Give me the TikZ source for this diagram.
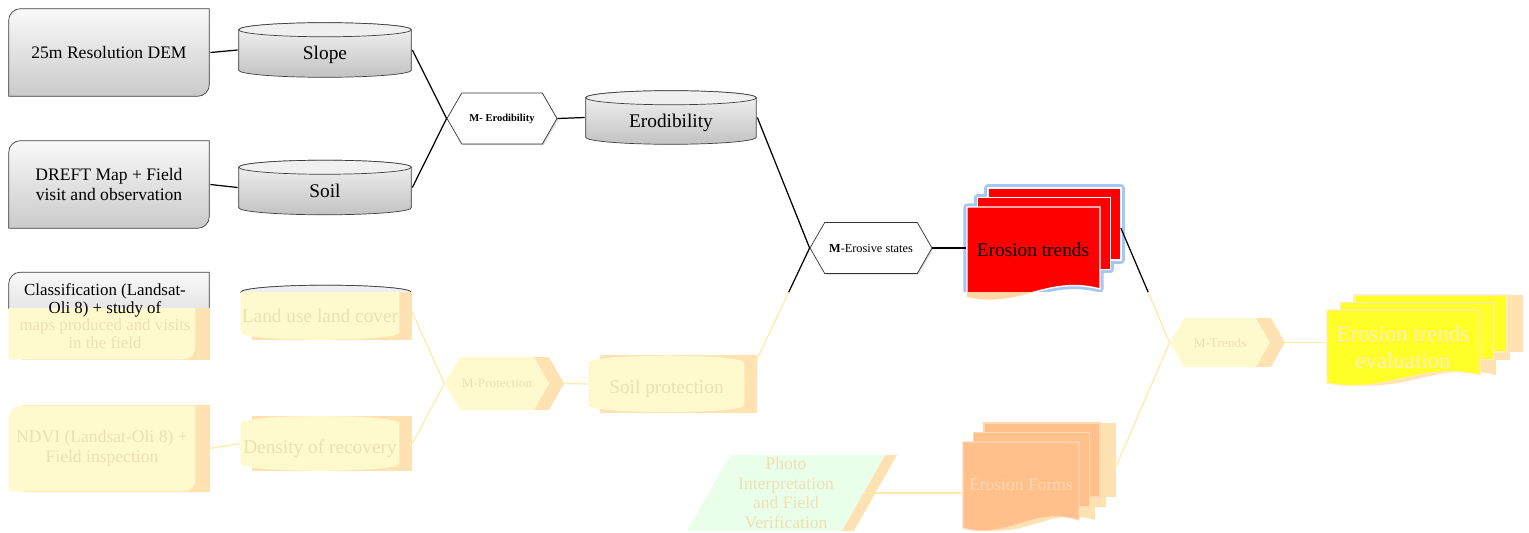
\documentclass[tikz,border=0pt]{standalone}
\usepackage{fontspec}
\setmainfont{Liberation Serif}
\usetikzlibrary{shapes.geometric,shapes.symbols,shadows,calc}

\definecolor{fadeyellow}{RGB}{255,250,205}
\definecolor{fadeshade}{RGB}{255,226,178}
\definecolor{fadetext}{RGB}{236,224,180}
\definecolor{fadeline}{RGB}{255,234,168}
\definecolor{photogreen}{RGB}{234,255,234}
\definecolor{formsorange}{RGB}{255,192,140}
\definecolor{formstext}{RGB}{255,216,178}
\definecolor{evalyellow}{RGB}{255,255,40}
\definecolor{evaltext}{RGB}{255,236,196}
\definecolor{glowblue}{RGB}{165,200,240}
\definecolor{fadetrend}{RGB}{255,214,165}

% stack of three pages, front page with a wavy bottom
% #1,#2 top left of front page, #3 width, #4 front height, #5 back height,
% #6,#7 page offset, #8 page style, #9 style of the pass below
\newcommand\docstack[9]{%
  \foreach \k in {2,1}
    \path[#9] ({#1+\k*#6},{#2+\k*#7}) rectangle ++(#3,-#5);
  \path[#9] (#1,#2) -- ++(#3,0) -- ++(0,{-#4+8})
    .. controls ({#1+0.6*#3},{#2-#4+22}) and ({#1+0.4*#3},{#2-#4-12}) .. (#1,{#2-#4}) -- cycle;
  \foreach \k in {2,1}
    \path[#8] ({#1+\k*#6},{#2+\k*#7}) rectangle ++(#3,-#5);
  \path[#8] (#1,#2) -- ++(#3,0) -- ++(0,{-#4+8})
    .. controls ({#1+0.6*#3},{#2-#4+22}) and ({#1+0.4*#3},{#2-#4-12}) .. (#1,{#2-#4}) -- cycle;
}

\tikzset{%
  % frames drawn inside the nodes
  srcpath/.style={path picture={
    \path[#1] ([xshift=.4pt,yshift=.4pt]path picture bounding box.south west)
      -- ([xshift=.4pt,yshift=-7pt]path picture bounding box.north west)
      arc[start angle=180,end angle=90,radius=6.6pt]
      -- ([xshift=-.4pt,yshift=-.4pt]path picture bounding box.north east)
      -- ([xshift=-.4pt,yshift=7pt]path picture bounding box.south east)
      arc[start angle=0,end angle=-90,radius=6.6pt]
      -- cycle;}},
  cylpath/.style 2 args={path picture={
    \path[#1] let \p1=(path picture bounding box.north west),
                  \p2=(path picture bounding box.south east),
                  \n1={(\x2-\x1)/2-0.4pt} in
      (\x1+0.4pt,\y1-4.4pt) -- (\x1+0.4pt,\y2+4.4pt)
      arc[start angle=180,end angle=360,x radius=\n1,y radius=4pt]
      -- (\x2-0.4pt,\y1-4.4pt)
      arc[start angle=0,end angle=180,x radius=\n1,y radius=4pt] -- cycle;
    \path[#2] let \p1=(path picture bounding box.north west),
                  \p2=(path picture bounding box.south east),
                  \n1={(\x2-\x1)/2-0.4pt} in
      (\x1+0.4pt+\n1,\y1-4.4pt) ellipse[x radius=\n1,y radius=4pt];}},
  % nodes
  srcbox/.style={minimum width=4.04cm, minimum height=1.78cm, inner sep=1pt,
                 align=center, font=\fontsize{10}{11.5}\selectfont,
                 srcpath={draw=black!75, top color=gray!4, bottom color=gray!42}},
  fadesrc/.style={srcbox, minimum width=3.76cm, minimum height=1.74cm, text=fadetext,
                  srcpath={fill=fadeyellow},
                  general shadow={fill=fadeshade, shadow xshift=.28cm, shadow yshift=0cm}},
  dbcyl/.style={minimum width=3.48cm, minimum height=1.12cm, inner sep=1pt,
                text height=13pt, text depth=2pt,
                font=\fontsize{11}{13}\selectfont,
                cylpath={draw=black!75, top color=gray!8, bottom color=gray!48}%
                       {draw=black!75, fill=gray!12}},
  fadecyl/.style={dbcyl, minimum width=3.2cm, text=fadetext,
                  cylpath={fill=fadeyellow}{fill=fadeyellow},
                  general shadow={fill=fadeshade, shadow xshift=.24cm, shadow yshift=0cm}},
  hexbase/.style={shape=signal, signal to=east and west, signal pointer angle=120,
                  minimum height=1.02cm, inner sep=1pt, font=\fontsize{7}{8}\selectfont},
  mhex/.style={hexbase, draw=black!80, fill=white,
               drop shadow={shadow xshift=.7pt, shadow yshift=-.7pt, opacity=.3}},
  fadehex/.style={hexbase, fill=fadeyellow, text=fadetext, font=\fontsize{7.5}{9}\selectfont,
                  general shadow={fill=fadeshade, shadow xshift=.3cm, shadow yshift=0cm}},
  photobox/.style={shape=trapezium, trapezium left angle=63, trapezium right angle=117,
                   trapezium stretches=true, minimum width=4cm, minimum height=1.52cm,
                   inner sep=1pt, align=center, fill=photogreen, text=fadetext,
                   font=\fontsize{10}{11.3}\selectfont,
                   general shadow={fill=fadeshade, shadow xshift=.24cm, shadow yshift=0cm}},
  % pages
  trendpage/.style={fill=red, draw=white, line width=.8pt},
  trendglow/.style={draw=glowblue, line width=4pt, line join=round},
  formspage/.style={fill=formsorange, draw=formstext, line width=.6pt},
  evalpage/.style={fill=evalyellow, draw=evaltext, line width=.6pt},
  fadeunder/.style={fill=fadeshade, xshift=.32cm},
  % connectors
  link/.style={draw=black, line width=.7pt},
  fadelink/.style={draw=fadeline, line width=.7pt},
}

\begin{document}
\begin{tikzpicture}[x=0.02cm, y=0.02cm]
  \useasboundingbox (0,0) rectangle (1529,532);
  % input data
  \node[srcbox] (dem)   at (109,479.5) {25m Resolution DEM};
  \node[srcbox] (dreft) at (109,347.5) {DREFT Map + Field\\visit and observation};
  \begin{scope}
    \clip (0,224) rectangle (1529,532);
    \node[srcbox] (classtop) at (109,216) {};
  \end{scope}
  \begin{scope}
    \clip (0,0) rectangle (1529,224);
    \node[fadesrc, minimum height=1.76cm] (classfade) at (102,216) {};
  \end{scope}
  \node[align=center, font=\fontsize{9.6}{10}\selectfont] (class) at (105,216)
    {Classification (Landsat-\\Oli 8) + study of\\\textcolor{fadetext}{maps produced and visits}\\\textcolor{fadetext}{in the field}};
  \begin{scope}
    \clip (0,240) rectangle (1529,532);
    \node[dbcyl, minimum width=3.44cm] (landusetop) at (326,219.5) {};
  \end{scope}
  \begin{scope}
    \clip (0,0) rectangle (1529,240);
    \node[fadecyl] (landuse) at (320,219.5) {Land use land cover};
  \end{scope}
  \node[fadesrc] (ndvi) at (102,83.5) {NDVI (Landsat-Oli 8) +\\Field inspection};
  \node[fadecyl] (density) at (320,88.5) {Density of recovery};
  % layers
  \node[dbcyl] (slope) at (325,482) {Slope};
  \node[dbcyl] (soil)  at (325,344.5) {Soil};
  \node[dbcyl, minimum width=3.44cm, minimum height=1.1cm] (erod) at (671,414.5) {Erodibility};
  \node[fadecyl, minimum width=3.14cm, minimum height=1.16cm] (soilprot) at (666.5,148) {Soil protection};
  % models
  \node[mhex, minimum width=2.2cm, font=\fontsize{6}{7}\selectfont\bfseries] (merod) at (502,413.5) {M- Erodibility};
  \node[mhex, minimum width=2.44cm] (meros) at (871,284) {\textbf{M}-Erosive states};
  \node[fadehex, minimum width=1.84cm, minimum height=1.06cm] (mprot) at (497,148.5) {M-Protection};
  \node[fadehex, minimum width=2cm, minimum height=.98cm] (mtrends) at (1220,189.5) {M-Trends};
  % results
  \docstack{967}{325}{133}{90}{72}{10.5}{9.5}{trendpage}{trendglow}
  \node[font=\fontsize{11}{13}\selectfont, minimum width=2.66cm] (trends) at (1033,282) {Erosion trends};
  \begin{scope}
    \clip (940,0) rectangle (1140,240);
    \fill[white] (940,0) rectangle (1140,240);
    \docstack{967}{325}{133}{90}{72}{10.5}{9.5}{fill=fadetrend}{}
  \end{scope}
  \node[photobox] (photo) at (786,39) {Photo\\Interpretation\\and Field\\Verification};
  \docstack{963}{90}{116}{86}{74}{10.5}{9.5}{formspage}{fadeunder}
  \node[font=\fontsize{10}{12}\selectfont, text=formstext, minimum width=2.32cm] (forms) at (1021,47) {Erosion Forms};
  \docstack{1327}{222}{153}{73}{57}{13.5}{7.5}{evalpage}{fadeunder}
  \node[font=\fontsize{13}{15.3}\selectfont, text=evaltext, align=center, minimum width=3.06cm] (eval) at (1403,185) {Erosion trends\\evaluation};
  % connectors
  \draw[link] (dem.east) -- (slope.west);
  \draw[link] (dreft.east) -- (soil.west);
  \draw[link] (slope.east) -- (merod.west);
  \draw[link] (soil.east) -- (merod.west);
  \draw[link] (merod.east) -- (erod.west);
  \draw[link] (erod.east) -- (meros.west);
  \draw[link] (meros.east) -- (meros.east -| trends.west);
  \draw[fadelink] ([xshift=.28cm]ndvi.east) -- (density.west);
  \draw[fadelink] ([xshift=.24cm]landuse.east) -- (mprot.west);
  \draw[fadelink] ([xshift=.24cm]density.east) -- (mprot.west);
  \draw[fadelink] ([xshift=.3cm]mprot.east) -- (soilprot.west);
  \draw[fadelink] (photo.east) -- (photo.east -| forms.west);
  \draw[fadelink] ([shift={(37,19)}]forms.east) -- (mtrends.west);
  \draw[fadelink] ([xshift=.3cm]mtrends.east) -- (mtrends.east -| eval.west);
  \begin{scope}
    \clip (0,240) rectangle (1529,532);
    \draw[link] (soilprot.east) -- (meros.west);
    \draw[link] ([shift={(21,22)}]trends.east) -- (mtrends.west);
  \end{scope}
  \begin{scope}
    \clip (0,0) rectangle (1529,240);
    \draw[fadelink] (soilprot.east) -- (meros.west);
    \draw[fadelink] ([shift={(21,22)}]trends.east) -- (mtrends.west);
  \end{scope}
\end{tikzpicture}
\end{document}
